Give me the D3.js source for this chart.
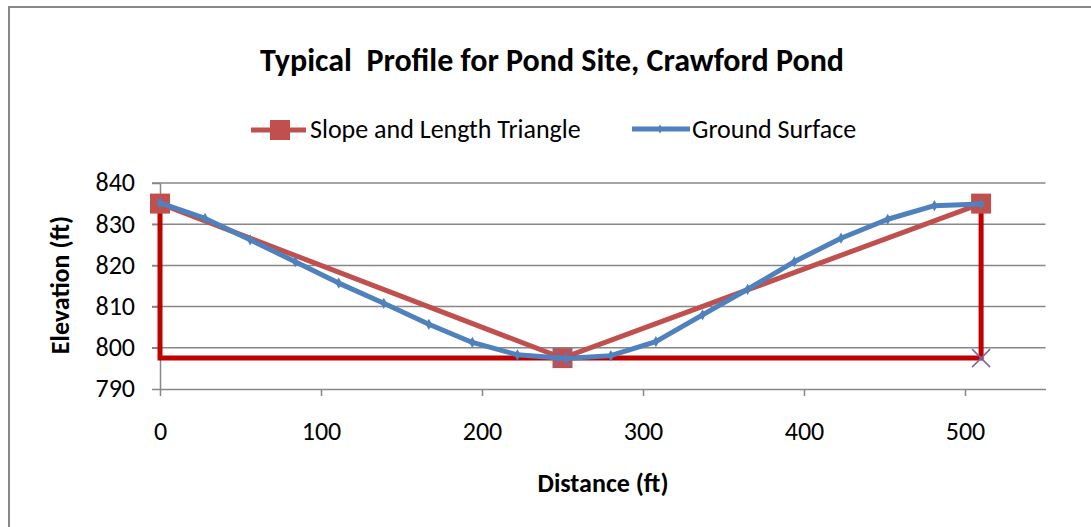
<!DOCTYPE html>
<html lang="en">
<head>
<meta charset="UTF-8">
<title>Typical Profile for Pond Site, Crawford Pond</title>
<style type="text/css">
	body { margin: 0; background: #fff; }
	text { font-family: Carlito, Calibri, Lato, sans-serif; fill: #000; }
	.grid line { stroke: #878787; stroke-width: 1.5px; }
	.axis path, .axis line { fill: none; stroke: #878787; stroke-width: 1.5px; }
	.axis text { font-size: 26px; fill: #000; }
	.title { font-size: 32px; font-weight: bold; }
	.legend text { font-size: 26px; }
	.label { font-size: 26px; font-weight: bold; }
</style>
<script src="https://cdn.jsdelivr.net/npm/d3@7"></script>
</head>
<body>
<script type="text/javascript">

// Ground Surface series
var groundX = [0, 28, 56, 84, 111, 139, 167, 194, 222, 252, 280, 308, 337, 365, 394, 423, 452, 481, 510];
var groundY = [835.2, 831.4, 826.2, 820.9, 815.7, 810.8, 805.7, 801.3, 798.3, 797.4, 798.1, 801.5, 808.0, 814.2, 820.9, 826.6, 831.2, 834.5, 834.9];

// Slope and Length Triangle series
var triX = [0, 250, 510];
var triY = [835, 797.5, 835];

// dark red frame (verticals and base)
var frameX = [0, 0, 510, 510];
var frameY = [835, 797.5, 797.5, 835];

// x markers on the base
var crossX = [250, 510];
var crossY = [797.5, 797.5];

var xTicks = [0, 100, 200, 300, 400, 500];
var yTicks = [790, 800, 810, 820, 830, 840];

var W = 1091, H = 527;
var margin = {top: 183, right: 45, bottom: 138, left: 160};
var width = 1045.5 - margin.left;
var height = 389 - margin.top;

var svg = d3.select('body').append('svg')
	.attr('width', W)
	.attr('height', H);

// outer chart border (only left and top are inside the picture)
svg.append('rect')
	.attr('x', 9).attr('y', 7)
	.attr('width', W + 20).attr('height', H + 20)
	.attr('fill', 'none')
	.attr('stroke', '#888').attr('stroke-width', 2);

svg.append('text')
	.attr('class', 'title')
	.attr('x', 552).attr('y', 71)
	.attr('text-anchor', 'middle')
	.text('Typical\u00a0 Profile for Pond Site, Crawford Pond');

// legend
var lg = svg.append('g').attr('class', 'legend');
lg.append('line').attr('x1', 251).attr('x2', 306).attr('y1', 130).attr('y2', 130)
	.attr('stroke', '#C0504D').attr('stroke-width', 5);
lg.append('rect').attr('x', 270).attr('y', 120).attr('width', 20).attr('height', 20)
	.attr('fill', '#C0504D');
lg.append('text').attr('x', 310).attr('y', 138).text('Slope and Length Triangle');
lg.append('line').attr('x1', 632).attr('x2', 690).attr('y1', 129).attr('y2', 129)
	.attr('stroke', '#4F81BD').attr('stroke-width', 5);
lg.append('path').attr('d', d3.symbol(d3.symbolDiamond, 24)())
	.attr('transform', 'translate(660,129)').attr('fill', '#4F81BD');
lg.append('text').attr('x', 692).attr('y', 138).text('Ground Surface');

var g = svg.append('g').attr('transform', 'translate(' + margin.left + ',' + margin.top + ')');

var x = d3.scaleLinear().domain([0, 550]).range([0, width]);
var y = d3.scaleLinear().domain([790, 840]).range([height, 0]);

// horizontal gridlines
g.append('g').attr('class', 'grid')
	.selectAll('line').data(yTicks.slice(1))
	.enter().append('line')
	.attr('x1', -8).attr('x2', width)
	.attr('y1', d => y(d)).attr('y2', d => y(d));

g.append('g').attr('class', 'x axis')
	.attr('transform', 'translate(0,' + height + ')')
	.call(d3.axisBottom(x).tickValues(xTicks).tickSize(7).tickSizeOuter(0).tickPadding(44))
	.selectAll('text').attr('dy', '0');

g.append('g').attr('class', 'y axis')
	.call(d3.axisLeft(y).tickValues(yTicks).tickSize(8).tickSizeOuter(0).tickPadding(17))
	.selectAll('text').attr('dy', '0.3em');

// axis titles
svg.append('text').attr('class', 'label')
	.attr('x', 603).attr('y', 492)
	.attr('text-anchor', 'middle')
	.text('Distance (ft)');
svg.append('text').attr('class', 'label')
	.attr('transform', 'translate(69,285) rotate(-90)')
	.attr('text-anchor', 'middle')
	.text('Elevation (ft)');

var line = d3.line().x(d => x(d[0])).y(d => y(d[1]));

// triangle slope series
var tri = d3.zip(triX, triY);
g.append('path').datum(tri)
	.attr('d', line)
	.attr('fill', 'none').attr('stroke', '#C0504D').attr('stroke-width', 5);

// dark red frame
g.append('path').datum(d3.zip(frameX, frameY))
	.attr('d', line)
	.attr('fill', 'none').attr('stroke', '#C00000').attr('stroke-width', 5)
	.attr('stroke-linejoin', 'miter');

g.selectAll('.sq').data(tri)
	.enter().append('rect').attr('class', 'sq')
	.attr('x', d => x(d[0]) - 10).attr('y', d => y(d[1]) - 10)
	.attr('width', 20).attr('height', 20)
	.attr('fill', '#C0504D');

g.selectAll('.cross').data(d3.zip(crossX, crossY))
	.enter().append('path').attr('class', 'cross')
	.attr('d', 'M-9,-9L9,9M-9,9L9,-9')
	.attr('transform', d => 'translate(' + x(d[0]) + ',' + y(d[1]) + ')')
	.attr('stroke', '#8064A2').attr('stroke-width', 1.5);

// ground surface
var ground = d3.zip(groundX, groundY);
g.append('path').datum(ground)
	.attr('d', line)
	.attr('fill', 'none').attr('stroke', '#4F81BD').attr('stroke-width', 5)
	.attr('stroke-linejoin', 'round');

g.selectAll('.dia').data(ground)
	.enter().append('path').attr('class', 'dia')
	.attr('d', d3.symbol(d3.symbolDiamond, 36)())
	.attr('transform', d => 'translate(' + x(d[0]) + ',' + y(d[1]) + ')')
	.attr('fill', '#4F81BD');

</script>
</body>
</html>
